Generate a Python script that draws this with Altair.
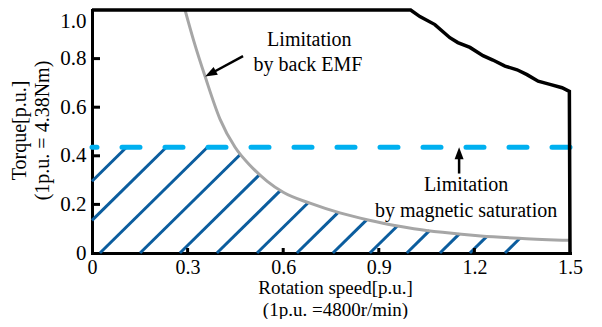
import math
import numpy as np
import pandas as pd
import altair as alt

# ---------------- data ----------------
x_ticks = [0, 0.3, 0.6, 0.9, 1.2, 1.5]
y_ticks = [0, 0.2, 0.4, 0.6, 0.8, 1.0]
x_inner_ticks = [0.3, 0.6, 0.9, 1.2]
y_inner_ticks = [0.2, 0.4, 0.6, 0.8]

# torque limit (black)
torque_speed = [0.0, 1.0, 1.029, 1.076, 1.123, 1.148, 1.186, 1.227, 1.258, 1.296,
                1.334, 1.365, 1.40, 1.437, 1.475, 1.498, 1.5]
torque_value = [1.0, 1.0, 0.973, 0.94, 0.886, 0.866, 0.846, 0.812, 0.794, 0.769,
                0.754, 0.734, 0.707, 0.694, 0.68, 0.665, 0.0]

# back-EMF limit (grey)
emf_speed = [0.292, 0.32, 0.355, 0.402, 0.449, 0.50, 0.55, 0.60, 0.684, 0.778,
             0.87, 0.95, 1.01, 1.1, 1.22, 1.35, 1.5]
emf_value = [1.0, 0.87, 0.726, 0.55, 0.435, 0.355, 0.295, 0.25, 0.205, 0.165,
             0.135, 0.113, 0.10, 0.085, 0.07, 0.06, 0.052]

# magnetic saturation level (dashed)
saturation_level = [0.435]

# hatching: x-intercepts (at torque 0) of the diagonal hatch lines and their slope
hatch_x0 = [-0.229, -0.104, 0.025, 0.151, 0.276, 0.392, 0.518, 0.643, 0.756,
            0.872, 0.988, 1.092, 1.186, 1.296]
hatch_slope = 1.29

# annotations
note_text = ["Limitation", "by back EMF", "Limitation", "by magnetic saturation"]
note_x = [0.682, 0.678, 1.174, 1.174]
note_y = [0.851, 0.75, 0.254, 0.149]

arrow_tail_x = [0.474, 1.152]
arrow_tail_y = [0.81, 0.327]
arrow_tip_x = [0.355, 1.152]
arrow_tip_y = [0.726, 0.435]

# ---------------- layout ----------------
W, H = 478, 243
XMAX, YMAX = 1.5, 1.0
px_x = W / XMAX
px_y = H / YMAX

FONT = "Liberation Serif, Times New Roman, serif"
HATCH_COLOR = "#0b5d9e"
GREY = "#a6a6a6"
CYAN = "#00b0f0"

# ---------------- derived tables ----------------
sat = saturation_level[0]
hatch_rows = []
for c in hatch_x0:
    xs0 = max(0.0, c)
    grid = np.linspace(xs0, XMAX, 6001)
    line = hatch_slope * (grid - c)
    cap = np.minimum(sat, np.interp(grid, emf_speed, emf_value, left=10.0))
    hit = np.nonzero(line >= cap)[0]
    if len(hit) == 0:
        continue
    k = hit[0]
    if k == 0:
        continue
    hatch_rows.append(dict(x=xs0, y=hatch_slope * (xs0 - c),
                           x2=float(grid[k]), y2=float(line[k])))
hatch_df = pd.DataFrame(hatch_rows)

emf_df = pd.DataFrame({"x": emf_speed, "y": emf_value})
torque_df = pd.DataFrame({"x": torque_speed, "y": torque_value,
                          "i": list(range(len(torque_speed)))})
sat_df = pd.DataFrame({"y": saturation_level})
ytick_df = pd.DataFrame({"y": y_inner_ticks})
xtick_df = pd.DataFrame({"x": x_inner_ticks})
note_df = pd.DataFrame({"x": note_x, "y": note_y, "t": note_text})

shaft_rows, head_rows = [], []
for tx, ty, hx, hy in zip(arrow_tail_x, arrow_tail_y, arrow_tip_x, arrow_tip_y):
    dxp = (hx - tx) * px_x
    dyp = -(hy - ty) * px_y
    L = math.hypot(dxp, dyp)
    ux, uy = dxp / L, dyp / L
    back = 6.0
    ex = hx - back * ux / px_x
    ey = hy + back * uy / px_y
    shaft_rows.append(dict(x=tx, y=ty, x2=ex, y2=ey))
    ang = math.degrees(math.atan2(dxp, -dyp)) % 360
    head_rows.append(dict(x=hx, y=hy, angle=ang))
shaft_df = pd.DataFrame(shaft_rows)
head_df = pd.DataFrame(head_rows)

# ---------------- encodings ----------------
xscale = alt.Scale(domain=[0, XMAX], nice=False, zero=False)
yscale = alt.Scale(domain=[0, YMAX], nice=False, zero=False)

x_axis = alt.Axis(
    values=x_ticks,
    labelExpr="datum.value == 0 ? '0' : format(datum.value, '.1f')",
    ticks=False, tickSize=0, grid=False,
    domainColor="black", domainWidth=3, domainCap="square",
    labelFont=FONT, labelFontSize=20, labelColor="black",
    labelPadding=4, labelFlush=False, labelOverlap=False, labelBaseline="top",
    title=["Rotation speed[p.u.]", "(1p.u. =4800r/min)"],
    titleFont=FONT, titleFontSize=19, titleFontWeight="normal", titleColor="black",
    titleX=243, titleY=40, titleAlign="center", titleBaseline="alphabetic",
    titleLineHeight=22, titleAngle=0,
)
y_axis = alt.Axis(
    values=y_ticks,
    labelExpr="datum.value == 0 ? '0' : format(datum.value, '.1f')",
    ticks=False, tickSize=0, grid=False,
    domainColor="black", domainWidth=3, domainCap="square",
    labelFont=FONT, labelFontSize=21, labelColor="black",
    labelPadding=6, labelFlush=False, labelOverlap=False,
    labelBaseline={"condition": {"test": "datum.value >= 1", "value": "top"},
                   "value": "middle"},
    title=["Torque[p.u.]", "(1p.u. = 4.38Nm)"],
    titleFont=FONT, titleFontSize=20, titleFontWeight="normal", titleColor="black",
    titleX=-67, titleY=120, titleAlign="center", titleBaseline="alphabetic",
    titleLineHeight=23, titleAngle=270,
)

X = alt.X("x:Q", scale=xscale, axis=x_axis)
Y = alt.Y("y:Q", scale=yscale, axis=y_axis)

hatch = alt.Chart(hatch_df).mark_rule(color=HATCH_COLOR, strokeWidth=3).encode(
    x=X, y=Y, x2="x2:Q", y2="y2:Q")

sat_line = alt.Chart(sat_df).mark_rule(
    color=CYAN, strokeWidth=5, strokeDash=[18, 25], strokeCap="round").encode(y=Y)

emf_line = alt.Chart(emf_df).mark_line(
    color=GREY, strokeWidth=3, interpolate="monotone").encode(x=X, y=Y)

torque_line = alt.Chart(torque_df).mark_line(
    color="black", strokeWidth=3.5, strokeJoin="miter").encode(x=X, y=Y, order="i:Q")

yticks = alt.Chart(ytick_df).mark_rule(color="black", strokeWidth=3).encode(
    y=Y, x=alt.value(0), x2=alt.value(8))
xticks = alt.Chart(xtick_df).mark_rule(color="black", strokeWidth=3).encode(
    x=X, y=alt.value(H), y2=alt.value(H - 5))

shafts = alt.Chart(shaft_df).mark_rule(color="black", strokeWidth=2.5).encode(
    x=X, y=Y, x2="x2:Q", y2="y2:Q")
heads = alt.Chart(head_df).mark_point(
    shape="M0,0L0.6,1.6L-0.6,1.6Z", filled=True, size=225, color="black",
    opacity=1, strokeWidth=0).encode(
    x=X, y=Y, angle=alt.Angle("angle:Q", scale=None))

notes = alt.Chart(note_df).mark_text(
    font=FONT, fontSize=20, color="black", align="center", baseline="alphabetic"
).encode(x=X, y=Y, text="t:N")

chart = alt.layer(
    hatch, sat_line, emf_line, torque_line, yticks, xticks, shafts, heads, notes
).properties(
    width=W, height=H,
    padding={"left": 84, "top": 2, "right": 24, "bottom": 66},
    autosize=alt.AutoSizeParams(type="none"),
    background="white",
).configure_view(stroke=None)

chart.save("out.html", embed_options={"renderer": "svg", "actions": False})
